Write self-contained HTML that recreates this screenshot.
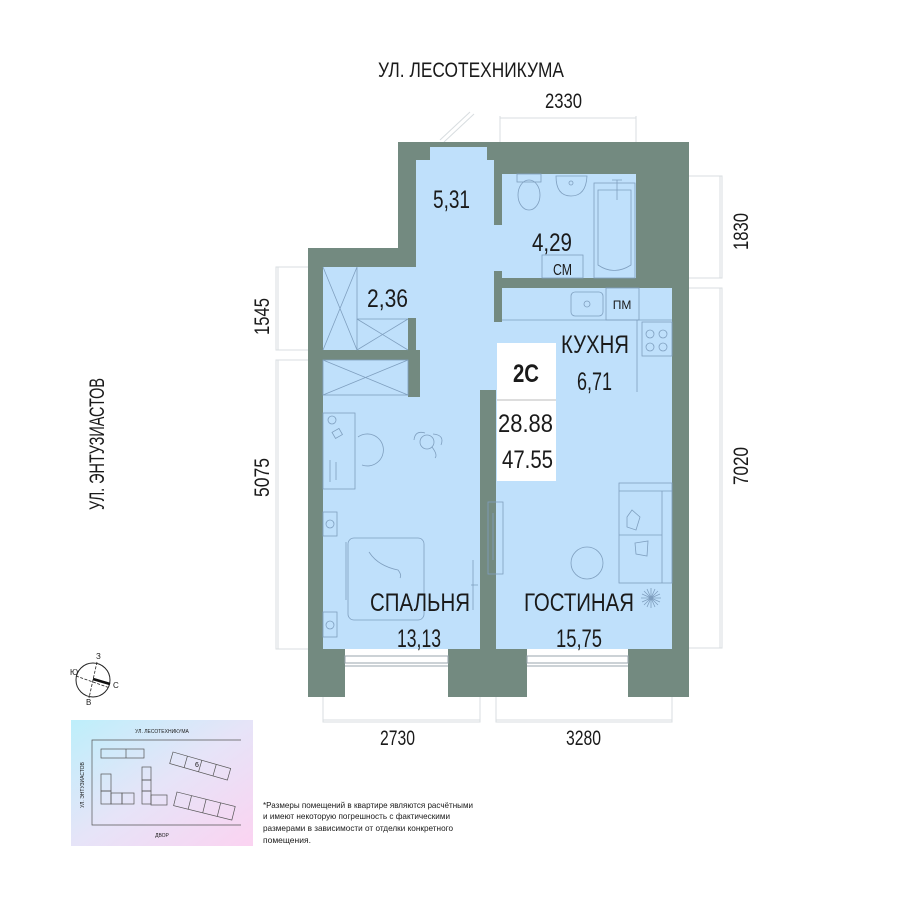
<!DOCTYPE html>
<html><head><meta charset="utf-8"><style>
body{margin:0;background:#fff}
svg{display:block}
text{font-family:"Liberation Sans Narrow","Liberation Sans",sans-serif;fill:#1a1a1a}
</style></head><body>
<svg width="900" height="899" viewBox="0 0 900 899" xmlns="http://www.w3.org/2000/svg">
<defs>
<linearGradient id="g" x1="0" y1="0" x2="1" y2="1">
<stop offset="0" stop-color="#bdeffb"/><stop offset="0.5" stop-color="#e6e4f8"/><stop offset="1" stop-color="#fbd3f1"/>
</linearGradient>
</defs>
<g stroke="#d8dde0" stroke-width="1" fill="none">
<path d="M500 116V142M636 116V142M500 118H636"/>
<path d="M689 176H722V278H689M720 176V278"/>
<path d="M689 288H722V648H689M720 288V648"/>
<path d="M308 267H276V350H308M278 267V350"/>
<path d="M308 360H276V649H308M278 360V649"/>
<path d="M323 697V722H480V697M323 720H480"/>
<path d="M496 697V722H672V697M496 720H672"/>
<path d="M440 140L470 112M444 142L474 114"/>
</g>
<g font-size="21" lengthAdjust="spacingAndGlyphs">
<text x="378" y="77" textLength="186" lengthAdjust="spacingAndGlyphs">УЛ. ЛЕСОТЕХНИКУМА</text>
<text x="545" y="108" textLength="37" lengthAdjust="spacingAndGlyphs">2330</text>
<text x="380" y="745" textLength="35" lengthAdjust="spacingAndGlyphs">2730</text>
<text x="566" y="745" textLength="35" lengthAdjust="spacingAndGlyphs">3280</text>
<text transform="translate(748,250) rotate(-90)" textLength="37" lengthAdjust="spacingAndGlyphs">1830</text>
<text transform="translate(748,485) rotate(-90)" textLength="38" lengthAdjust="spacingAndGlyphs">7020</text>
<text transform="translate(269,335) rotate(-90)" textLength="37" lengthAdjust="spacingAndGlyphs">1545</text>
<text transform="translate(269,497) rotate(-90)" textLength="39" lengthAdjust="spacingAndGlyphs">5075</text>
<text transform="translate(104,510) rotate(-90)" textLength="132" lengthAdjust="spacingAndGlyphs">УЛ. ЭНТУЗИАСТОВ</text>
</g>

<path d="M308 248H398V142H689V697H308Z" fill="#738a80"/>
<g fill="#bfe0fb">
<rect x="430" y="147" width="57" height="14"/>
<rect x="416" y="160" width="78" height="232"/>
<rect x="494" y="225" width="8" height="46"/>
<rect x="502" y="174" width="134" height="104"/>
<rect x="502" y="288" width="170" height="104"/>
<rect x="494" y="322" width="8" height="70"/>
<rect x="496" y="390" width="176" height="259"/>
<rect x="323" y="267" width="85" height="83"/>
<rect x="408" y="267" width="8" height="51"/>
<rect x="323" y="360" width="157" height="289"/>
<rect x="420" y="350" width="60" height="40"/>
</g>
<g fill="#738a80">
<rect x="480" y="390" width="16" height="190"/>
<rect x="480" y="580" width="8" height="69"/>
<rect x="408" y="350" width="12" height="47"/>
</g>
<g fill="#fff">
<rect x="345" y="649" width="103" height="49"/>
<rect x="527" y="649" width="101" height="49"/>
</g>
<g stroke="#9aa6ad" stroke-width="1" fill="none">
<rect x="345" y="656" width="103" height="7"/>
<rect x="527" y="656" width="101" height="7"/>
<path d="M345 666H448M527 666H628"/>
</g>
<g stroke="#7f9fbf" stroke-width="0.8" fill="none">
<path d="M357 267V350M323 267L357 350M357 267L323 350"/>
<path d="M357 319H408M357 319L408 350M408 319L357 350"/>
<rect x="323" y="360" width="85" height="35"/>
<path d="M323 360L408 395M408 360L323 395"/>
<rect x="517" y="174" width="24" height="8"/><ellipse cx="529" cy="195" rx="11" ry="15"/>
<path d="M556 176H587Q586 196 571 196Q556 196 556 176Z"/><circle cx="571" cy="183" r="2"/>
<rect x="594" y="183" width="41" height="95"/><path d="M598 190H631V265Q614 276 598 265Z"/>
<path d="M612 180H622M617 180V200"/>
<rect x="542" y="255" width="41" height="23"/>
<path d="M502 320H637V392M637 320H672"/>
<rect x="571" y="292" width="32" height="24" rx="4"/><circle cx="587" cy="304" r="3"/>
<rect x="606" y="288" width="33" height="32"/>
<rect x="642" y="322" width="30" height="34"/>
<circle cx="650" cy="334" r="4"/><circle cx="663" cy="334" r="4"/><circle cx="650" cy="347" r="4"/><circle cx="663" cy="347" r="4"/>
<rect x="619" y="483" width="53" height="100"/><path d="M619 491H672M662 491V583M619 535H662"/>
<path d="M627 517L632 510L640 517L636 530L627 527Z"/><path d="M635 543L648 541L647 556L636 554Z"/>
<circle cx="587" cy="563" r="16"/>
<rect x="488" y="502" width="15" height="72"/><path d="M493 513V560"/>
<g transform="translate(651,598)"><path d="M-10 0H10M0 -10V10M-7 -7L7 7M-7 7L7 -7M-4 -9L4 9M4 -9L-4 9M-9 -4L9 4M9 -4L-9 4"/></g>
<rect x="323" y="413" width="32" height="76"/>
<circle cx="332" cy="420" r="4"/><rect x="333" y="430" width="8" height="7" transform="rotate(-30 337 433)"/>
<path d="M358 437A16 16 0 1 1 362 465"/>
<path d="M330 460V482M336 462V480"/>
<circle cx="427" cy="442" r="7"/><path d="M414 440Q415 430 425 433M432 447Q438 455 435 458M433 434Q445 435 441 445"/>
<rect x="323" y="512" width="14" height="24"/><circle cx="330" cy="524" r="4"/>
<rect x="323" y="612" width="14" height="25"/><circle cx="330" cy="625" r="4"/>
<rect x="348" y="538" width="76" height="82" rx="6"/><path d="M346 542V600"/>
<path d="M369 552Q378 566 398 570Q402 575 400 578"/>
<path d="M473 560V610M471 585H478"/>
</g>
<rect x="497" y="343" width="59" height="138" fill="#fff"/>
<path d="M497 400H556" stroke="#bbb"/>
<g font-size="25">
<text x="513" y="382" textLength="26" lengthAdjust="spacingAndGlyphs" font-weight="bold">2С</text>
<text x="498" y="432" textLength="55" lengthAdjust="spacingAndGlyphs">28.88</text>
<text x="502" y="468" textLength="51" lengthAdjust="spacingAndGlyphs">47.55</text>
</g>
<g font-size="25">
<text x="433" y="208" textLength="37" lengthAdjust="spacingAndGlyphs">5,31</text>
<text x="532" y="251" textLength="40" lengthAdjust="spacingAndGlyphs">4,29</text>
<text x="367" y="307" textLength="41" lengthAdjust="spacingAndGlyphs">2,36</text>
<text x="561" y="353" textLength="68" lengthAdjust="spacingAndGlyphs">КУХНЯ</text>
<text x="577" y="390" textLength="35" lengthAdjust="spacingAndGlyphs">6,71</text>
<text x="370" y="611" textLength="100" lengthAdjust="spacingAndGlyphs">СПАЛЬНЯ</text>
<text x="397" y="647" textLength="44" lengthAdjust="spacingAndGlyphs">13,13</text>
<text x="524" y="611" textLength="110" lengthAdjust="spacingAndGlyphs">ГОСТИНАЯ</text>
<text x="556" y="647" textLength="46" lengthAdjust="spacingAndGlyphs">15,75</text>
</g>
<text x="553" y="275" font-size="16" textLength="19" lengthAdjust="spacingAndGlyphs">СМ</text>
<text x="622" y="309" font-size="12" text-anchor="middle" fill="#9bb">ПМ</text>

<circle cx="93" cy="680" r="17" fill="none" stroke="#222" stroke-width="1"/>
<path d="M97 662L89 698M76 676L110 688" stroke="#222" stroke-width="0.8" stroke-dasharray="3 1.5"/>
<path d="M93 679L110 684" stroke="#111" stroke-width="2.5"/>
<text x="96" y="659" font-size="8">З</text>
<text x="70" y="675" font-size="8">Ю</text>
<text x="113" y="688" font-size="8">С</text>
<text x="86" y="705" font-size="8">В</text>

<rect x="71" y="720" width="182" height="126" fill="url(#g)"/>
<g stroke="#555" stroke-width="0.7" fill="none">
<path d="M241 740H92V825H241"/>
<rect x="101" y="749" width="43" height="9"/><path d="M126 749V758"/>
<rect x="101" y="774" width="10" height="17"/><rect x="101" y="791" width="10" height="13"/><rect x="111" y="793" width="11" height="11"/><rect x="122" y="793" width="12" height="11"/>
<rect x="142" y="767" width="9" height="13"/><rect x="142" y="780" width="9" height="11"/><rect x="142" y="791" width="9" height="13"/><rect x="151" y="795" width="16" height="10"/>
<g transform="translate(173,752) rotate(16)"><rect x="0" y="0" width="60" height="12"/><path d="M15 0V12M30 0V12M45 0V12"/></g>
<g transform="translate(177,792) rotate(14)"><rect x="0" y="0" width="60" height="14"/><path d="M15 0V14M30 0V14M45 0V14"/></g>
</g>
<text x="162" y="733" font-size="5" text-anchor="middle">УЛ. ЛЕСОТЕХНИКУМА</text>
<text x="162" y="837" font-size="5" text-anchor="middle">ДВОР</text>
<text transform="translate(84,785) rotate(-90)" font-size="5" text-anchor="middle">УЛ. ЭНТУЗИАСТОВ</text>
<text x="195" y="767" font-size="7">6</text>
<g font-size="8.5" fill="#333">
<text x="263" y="808" textLength="210" lengthAdjust="spacingAndGlyphs">*Размеры помещений в квартире являются расчётными</text>
<text x="263" y="819" textLength="187" lengthAdjust="spacingAndGlyphs">и имеют некоторую погрешность с фактическими</text>
<text x="263" y="831" textLength="190" lengthAdjust="spacingAndGlyphs">размерами в зависимости от отделки конкретного</text>
<text x="263" y="843">помещения.</text>
</g>
</svg>
</body></html>
